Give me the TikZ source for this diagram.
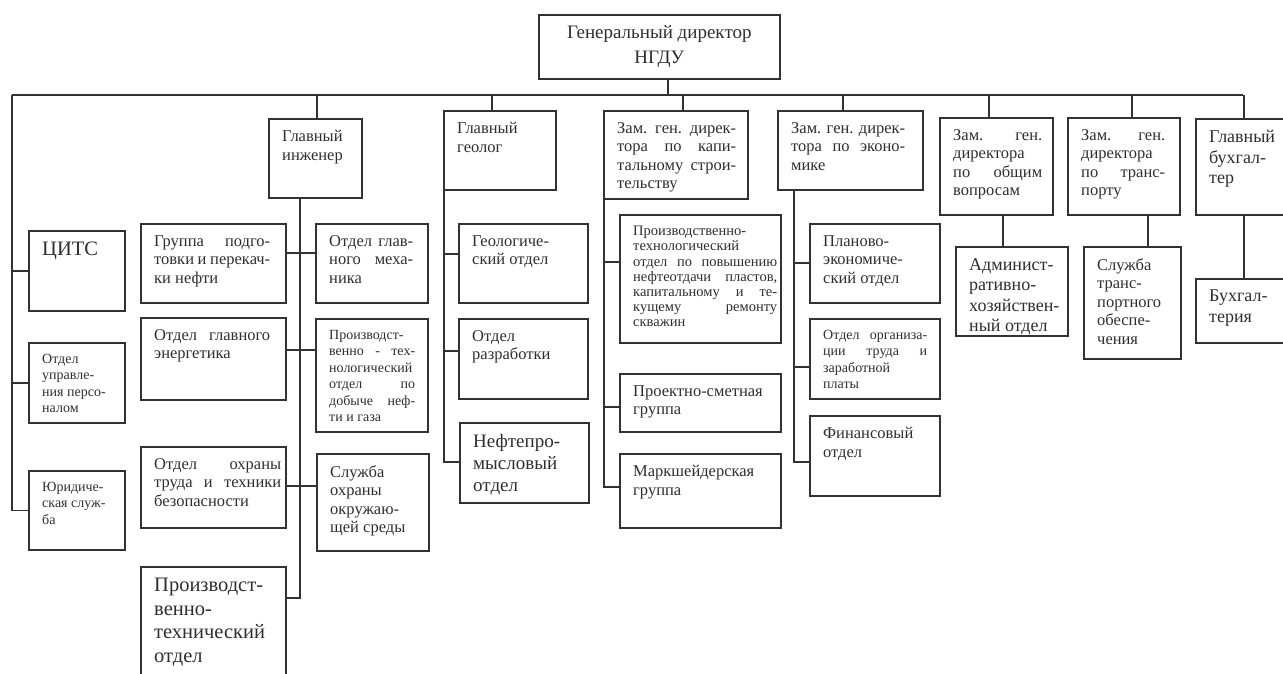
\documentclass[tikz,border=0pt]{standalone}
\usepackage{fontspec}
\setmainfont{Liberation Serif}
\usetikzlibrary{calc}
\tolerance=10000
\hbadness=10000
\definecolor{ln}{HTML}{333333}
\definecolor{tx}{HTML}{2E2E2E}
\newcommand\orgbox[8]{%
  \node[box, minimum width={#4-#2}, minimum height={#5-#3}, anchor=north west] (#1) at (#2,#3) {};
  \node[txt, #6, text width=#7pt, anchor=north west] (#1-t) at ([shift={(14,12)}]#1.north west) {#8};}
\tikzset{
  box/.style={draw=ln, line width=1.6pt, inner sep=0pt},
  txt/.style={inner sep=0pt, align=justify, text=tx},
  conn/.style={draw=ln, line width=1.6pt},
  fT/.style={font=\fontsize{19}{25}\selectfont},
  fN/.style={font=\fontsize{16.5}{18.5}\selectfont},
  fS/.style={font=\fontsize{14}{16.5}\selectfont},
  fX/.style={font=\fontsize{14.5}{15.2}\selectfont},
  fL/.style={font=\fontsize{20.5}{23.5}\selectfont},
  fG/.style={font=\fontsize{19}{22}\selectfont},
  fB/.style={font=\fontsize{18}{20.5}\selectfont},
}
\begin{document}
\begin{tikzpicture}[x=1pt,y=-1pt]
\useasboundingbox (0,0) rectangle (1283,673);
\clip (0,0) rectangle (1283,673);

% top
\node[box, minimum width=241, minimum height=64, anchor=north west] (gd) at (538,14) {};
\node[txt, fT, align=center] (gd-t) at (gd.center) {Генеральный директор\\НГДУ};

% left column
\orgbox{cits}{28}{230}{124}{310}{fL}{72}{ЦИТС}
\orgbox{oup}{28}{342}{124}{422}{fS}{75}{Отдел\newline управле-\newline ния персо-\newline налом}
\orgbox{yur}{28}{470}{124}{549}{fS}{75}{Юридиче-\newline ская служ-\newline ба}

% chief engineer
\orgbox{gi}{268}{118}{361}{197}{fN}{72}{Главный\newline инженер}
\orgbox{grp}{140}{223}{285}{302}{fN}{116}{Группа подго-\linebreak товки и перекач-\linebreak ки нефти}
\orgbox{mech}{315}{223}{427}{302}{fN}{84}{Отдел глав-\linebreak ного меха-\linebreak ника}
\orgbox{ener}{140}{317}{285}{399}{fN}{116}{Отдел главного\linebreak энергетика}
\orgbox{ptd}{315}{318}{427}{431}{fS}{86}{Производст-\newline венно - тех-\linebreak нологический\newline отдел по\linebreak добыче неф-\linebreak ти и газа}
\orgbox{ohr}{140}{446}{285}{527}{fN}{127}{Отдел охраны\linebreak труда и техники\linebreak безопасности}
\orgbox{eco}{316}{453}{428}{550}{fN}{82}{Служба\newline охраны\newline окружаю-\newline щей среды}
\orgbox{ptech}{140}{566}{285}{700}{fL}{125}{Производст-\newline венно-\newline технический\newline отдел}

% chief geologist
\orgbox{gg}{443}{110}{555}{189}{fN}{80}{Главный\newline геолог}
\orgbox{geo1}{458}{223}{587}{302}{fN}{100}{Геологиче-\newline ский отдел}
\orgbox{geo2}{458}{318}{587}{398}{fN}{100}{Отдел\newline разработки}
\orgbox{geo3}{459}{422}{588}{502}{fG}{105}{Нефтепро-\newline мысловый\newline отдел}

% capital construction
\orgbox{kap}{603}{110}{747}{198}{fN}{119}{Зам. ген. дирек-\linebreak тора по капи-\linebreak тальному строи-\linebreak тельству}
\orgbox{kr1}{619}{214}{780}{342}{fX}{144}{Производственно-\newline технологический\newline отдел по повышению\linebreak нефтеотдачи пластов,\linebreak капитальному и те-\linebreak кущему ремонту\linebreak скважин}
\orgbox{kr2}{619}{373}{780}{431}{fN}{130}{Проектно-сметная\newline группа}
\orgbox{kr3}{619}{453}{780}{527}{fN}{130}{Маркшейдерская\newline группа}

% economics
\orgbox{ek}{777}{110}{922}{189}{fN}{114}{Зам. ген. дирек-\linebreak тора по эконо-\linebreak мике}
\orgbox{ek1}{809}{223}{939}{302}{fN}{100}{Планово-\newline экономиче-\newline ский отдел}
\orgbox{ek2}{809}{318}{939}{398}{fS}{104}{Отдел организа-\linebreak ции труда и\linebreak заработной\newline платы}
\orgbox{ek3}{809}{415}{939}{495}{fN}{100}{Финансовый\newline отдел}

% general, transport, accountant
\orgbox{ob}{939}{117}{1052}{214}{fN}{89}{Зам. ген.\linebreak директора\newline по общим\linebreak вопросам}
\orgbox{ob1}{955}{246}{1067}{335}{fB}{94}{Админист-\newline ративно-\newline хозяйствен-\newline ный отдел}
\orgbox{tr}{1067}{117}{1179}{214}{fN}{84}{Зам. ген.\linebreak директора\newline по транс-\linebreak порту}
\orgbox{tr1}{1083}{246}{1180}{358}{fN}{78}{Служба\newline транс-\newline портного\newline обеспе-\newline чения}
\orgbox{bu}{1195}{118}{1291}{214}{fB}{80}{Главный\newline бухгал-\newline тер}
\orgbox{bu1}{1195}{278}{1291}{342}{fB}{80}{Бухгал-\newline терия}

% main bar
\coordinate (barL) at (12,95);
\coordinate (barR) at (1243,95);
\draw[conn] (barL) -- (barR);
\draw[conn] ([xshift=8.5pt]gd.south) -- ([xshift=8.5pt]gd.south |- barL);
\draw[conn] ([xshift=1.5pt]gi.north) -- ([xshift=1.5pt]gi.north |- barL);
\draw[conn] ([xshift=-8pt]gg.north) -- ([xshift=-8pt]gg.north |- barL);
\draw[conn] ([xshift=7pt]kap.north) -- ([xshift=7pt]kap.north |- barL);
\draw[conn] ([xshift=-7.5pt]ek.north) -- ([xshift=-7.5pt]ek.north |- barL);
\draw[conn] ([xshift=-7.5pt]ob.north) -- ([xshift=-7.5pt]ob.north |- barL);
\draw[conn] ([xshift=8pt]tr.north) -- ([xshift=8pt]tr.north |- barL);
\draw[conn] (bu.north) -- (bu.north |- barL);

% left spine
\draw[conn] (barL) |- (yur.west);
\draw[conn] (cits.west) -- (cits.west -| barL);
\draw[conn] (oup.west) -- (oup.west -| barL);

% chief engineer spine
\coordinate (giE) at (300,598);
\coordinate (s1) at (300,253);
\coordinate (s2) at (300,350);
\coordinate (s3) at (300,486);
\draw[conn] (gi.south -| giE) -- (giE) -- (giE -| ptech.east);
\draw[conn] (grp.east |- s1) -- (mech.west |- s1);
\draw[conn] (ener.east |- s2) -- (ptd.west |- s2);
\draw[conn] (ohr.east |- s3) -- (eco.west |- s3);

% geologist spine
\coordinate (ggE) at (444,462);
\coordinate (g1) at (444,254);
\coordinate (g2) at (444,351);
\draw[conn] (gg.south -| ggE) -- (ggE) -- (ggE -| geo3.west);
\draw[conn] (g1) -- (g1 -| geo1.west);
\draw[conn] (g2) -- (g2 -| geo2.west);

% capital spine
\coordinate (kE) at (604,487);
\coordinate (k1) at (604,262);
\coordinate (k2) at (604,407);
\draw[conn] (kap.south -| kE) -- (kE) -- (kE -| kr3.west);
\draw[conn] (k1) -- (k1 -| kr1.west);
\draw[conn] (k2) -- (k2 -| kr2.west);

% economics spine
\coordinate (eE) at (794,462);
\coordinate (e1) at (794,263);
\coordinate (e2) at (794,367);
\draw[conn] (ek.south -| eE) -- (eE) -- (eE -| ek3.west);
\draw[conn] (e1) -- (e1 -| ek1.west);
\draw[conn] (e2) -- (e2 -| ek2.west);

% lower links on the right
\coordinate (o1) at (1003,230);
\coordinate (t1) at (1148,230);
\draw[conn] (ob.south -| o1) -- (ob1.north -| o1);
\draw[conn] (tr.south -| t1) -- (tr1.north -| t1);
\draw[conn] (bu.south) -- (bu1.north);
\end{tikzpicture}
\end{document}
